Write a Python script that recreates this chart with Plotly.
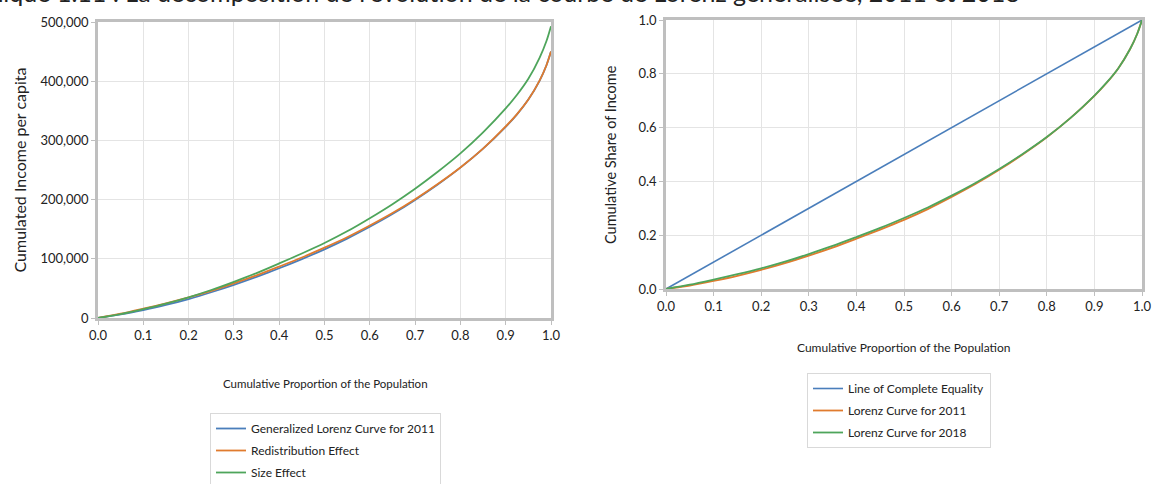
import plotly.graph_objects as go

# ---------------- data ----------------
pop = [0.0, 0.05, 0.1, 0.15, 0.2, 0.25, 0.3, 0.35, 0.4, 0.45, 0.5,
       0.55, 0.6, 0.65, 0.7, 0.75, 0.8, 0.85, 0.9, 0.925, 0.95, 0.975, 0.99, 1.0]

# Left chart: cumulated income per capita
gl_2011 = [0, 6000, 13500, 22000, 32000, 43500, 56000, 69500, 84000, 99500, 116000,
           134000, 154000, 175500, 199500, 225500, 254000, 286000, 323000, 344000, 369000,
           401000, 427000, 450000]
redistribution = [0, 7200, 15800, 24800, 34700, 45900, 58500, 72000, 86900, 102200, 118800,
                  136400, 156200, 177300, 200700, 226400, 254300, 286200, 323600, 344500, 369000,
                  401500, 427000, 450000]
size_effect = [0, 6400, 14800, 24200, 35000, 47300, 61100, 75900, 92200, 109000, 126700,
               146400, 168600, 192300, 218400, 247000, 278000, 313500, 354000, 377000, 404000,
               440000, 468000, 493000]

# Right chart: Lorenz curves
equality_x = [0.0, 1.0]
equality = [0.0, 1.0]
lorenz_2011 = [0, 0.013, 0.030, 0.049, 0.071, 0.096, 0.124, 0.154, 0.187, 0.221, 0.257,
               0.297, 0.342, 0.390, 0.443, 0.501, 0.564, 0.636, 0.718, 0.765, 0.820,
               0.892, 0.949, 1.0]
lorenz_2018 = [0, 0.016, 0.035, 0.055, 0.077, 0.102, 0.130, 0.160, 0.193, 0.227, 0.264,
               0.303, 0.347, 0.394, 0.446, 0.503, 0.565, 0.636, 0.719, 0.766, 0.820,
               0.892, 0.949, 1.0]

x_ticks = [0.0, 0.1, 0.2, 0.3, 0.4, 0.5, 0.6, 0.7, 0.8, 0.9, 1.0]
left_y_ticks = [0, 100000, 200000, 300000, 400000, 500000]
right_y_ticks = [0.0, 0.2, 0.4, 0.6, 0.8, 1.0]

BLUE = "#4a7ebb"
ORANGE = "#e07b2e"
GREEN = "#4ea55b"
NARROW = "Liberation Sans Narrow, Lato, sans-serif"
TICKF = "Lato, Liberation Sans, sans-serif"

W, H = 1153, 484
def px(x):
    return x / W
def py(y):
    return 1 - y / H

LW = 1.8
fig = go.Figure()
fig.add_trace(go.Scatter(x=pop, y=gl_2011, mode="lines", name="Generalized Lorenz Curve for 2011",
                         line=dict(color=BLUE, width=LW, shape="spline", smoothing=0.8),
                         xaxis="x", yaxis="y", legend="legend", legendgroup="a"))
fig.add_trace(go.Scatter(x=pop, y=redistribution, mode="lines", name="Redistribution Effect",
                         line=dict(color=ORANGE, width=LW, shape="spline", smoothing=0.8),
                         xaxis="x", yaxis="y", legend="legend", legendgroup="b"))
fig.add_trace(go.Scatter(x=pop, y=size_effect, mode="lines", name="Size Effect",
                         line=dict(color=GREEN, width=LW, shape="spline", smoothing=0.8),
                         xaxis="x", yaxis="y", legend="legend", legendgroup="c"))

fig.add_trace(go.Scatter(x=equality_x, y=equality, mode="lines", name="Line of Complete Equality",
                         line=dict(color=BLUE, width=1.6), xaxis="x2", yaxis="y2",
                         legend="legend2", legendgroup="d"))
fig.add_trace(go.Scatter(x=pop, y=lorenz_2011, mode="lines", name="Lorenz Curve for 2011",
                         line=dict(color=ORANGE, width=LW, shape="spline", smoothing=0.8),
                         xaxis="x2", yaxis="y2", legend="legend2", legendgroup="e"))
fig.add_trace(go.Scatter(x=pop, y=lorenz_2018, mode="lines", name="Lorenz Curve for 2018",
                         line=dict(color=GREEN, width=LW, shape="spline", smoothing=0.8),
                         xaxis="x2", yaxis="y2", legend="legend2", legendgroup="f"))

axis_common = dict(showgrid=True, gridcolor="#e4e4e4", gridwidth=1, zeroline=False,
                   showline=True, linecolor="#bfbfbf", linewidth=2.5, mirror=True,
                   ticks="outside", ticklen=4, tickcolor="#bfbfbf", automargin=False,
                   tickfont=dict(family=TICKF, size=13, color="#222"))

fig.update_layout(
    width=W, height=H, margin=dict(l=0, r=0, t=0, b=0, autoexpand=False),
    paper_bgcolor="white", plot_bgcolor="white",
    xaxis=dict(domain=[px(98), px(551)], anchor="y", range=[0, 1], tickvals=x_ticks,
               tickformat=".1f", **axis_common),
    yaxis=dict(domain=[py(318), py(22)], anchor="x", range=[0, 500000], tickvals=left_y_ticks,
               tickformat=",", **{**axis_common, "tickfont": dict(family=NARROW, size=13, color="#222")}),
    xaxis2=dict(domain=[px(666), px(1142)], anchor="y2", range=[0, 1], tickvals=x_ticks,
                tickformat=".1f", **axis_common),
    yaxis2=dict(domain=[py(289), py(20)], anchor="x2", range=[0, 1], tickvals=right_y_ticks,
                tickformat=".1f", **axis_common),
    legend=dict(x=px(210), y=py(413), xanchor="left", yanchor="top", bgcolor="white",
                bordercolor="#d9d9d9", borderwidth=1, font=dict(family=NARROW, size=12, color="#222"),
                tracegroupgap=3, itemwidth=30),
    legend2=dict(x=px(807), y=py(373), xanchor="left", yanchor="top", bgcolor="white",
                 bordercolor="#d9d9d9", borderwidth=1, font=dict(family=TICKF, size=12, color="#222"),
                 tracegroupgap=3, itemwidth=30),
    annotations=[
        dict(text="Graphique 1.11 : La décomposition de l'évolution de la courbe de Lorenz généralisée, 2011 et 2018",
             x=px(1022), y=py(-8), xref="paper", yref="paper", xanchor="right", yanchor="middle",
             showarrow=False, font=dict(family=TICKF, size=25, color="#222")),
        dict(text="Cumulated Income per capita", x=px(18.5), y=py(170), xref="paper", yref="paper",
             xanchor="center", yanchor="middle",
             textangle=-90, showarrow=False, font=dict(family=TICKF, size=16, color="#222")),
        dict(text="Cumulative Proportion of the Population", x=px(325), y=py(383), xref="paper", yref="paper",
             xanchor="center", yanchor="middle",
             showarrow=False, font=dict(family=NARROW, size=11.5, color="#222")),
        dict(text="Cumulative Share of Income", x=px(610), y=py(155), xref="paper", yref="paper",
             xanchor="center", yanchor="middle",
             textangle=-90, showarrow=False, font=dict(family=TICKF, size=14.5, color="#222")),
        dict(text="Cumulative Proportion of the Population", x=px(903), y=py(347), xref="paper", yref="paper",
             xanchor="center", yanchor="middle",
             showarrow=False, font=dict(family=TICKF, size=12, color="#222")),
    ],
)

fig.write_html("out.html", config={"displayModeBar": False},
               post_script="document.body.style.margin='0px';document.body.style.overflow='hidden';")
